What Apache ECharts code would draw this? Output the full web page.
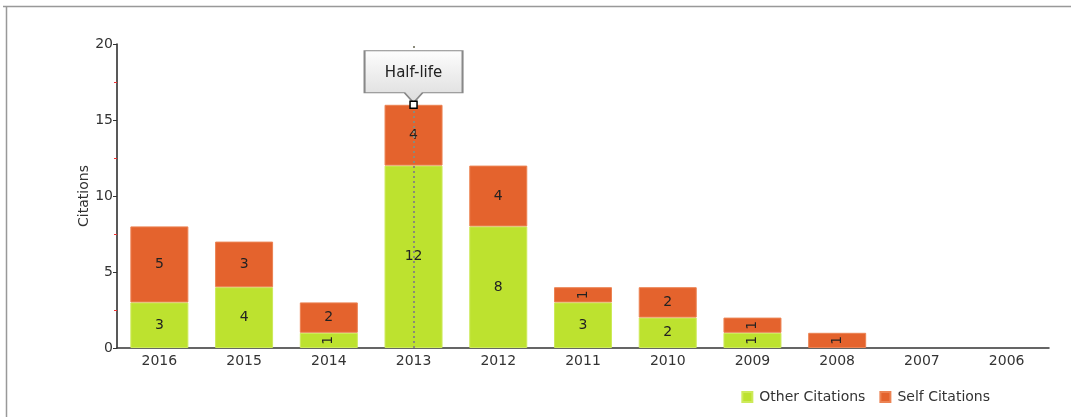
<!DOCTYPE html>
<html><head><meta charset="utf-8">
<script src="https://cdn.jsdelivr.net/npm/echarts@6/dist/echarts.min.js"></script>
<style>html,body{margin:0;padding:0;background:#fff}#c{width:1071px;height:417px}</style>
</head><body><div id="c"></div>
<script>
var years = ['2016','2015','2014','2013','2012','2011','2010','2009','2008','2007','2006'];
var otherCitations = [3, 4, 1, 12, 8, 3, 2, 1, 0, 0, 0];
var selfCitations  = [5, 3, 2, 4, 4, 1, 2, 1, 1, 0, 0];
var yTicks = [0, 5, 10, 15, 20];
var halfLifeYear = '2013';
var halfLifeValue = 16;

var green = '#bde22f', orange = '#e4632d';
function lbl(v){ return v === 1 ? {show:true, rotate:90, fontSize:14, color:'#222', fontFamily:'DejaVu Sans'} : {show:true, fontSize:14, color:'#222', fontFamily:'DejaVu Sans'}; }
function mk(arr){ return arr.map(function(v){ return v === 0 ? {value:'-'} : {value:v, label:lbl(v)}; }); }

var chart = echarts.init(document.getElementById('c'), null, {renderer:'canvas'});
chart.setOption({
  animation:false,
  textStyle:{fontFamily:'DejaVu Sans'},
  graphic:[
    {type:'line', shape:{x1:3,y1:6.5,x2:1071,y2:6.5}, style:{stroke:'#999',lineWidth:1.5}},
    {type:'line', shape:{x1:6.5,y1:6,x2:6.5,y2:417}, style:{stroke:'#999',lineWidth:1.5}}
  ],
  grid:{left:117, right:22, top:44, bottom:69},
  legend:{
    right:76, bottom:8, itemWidth:10, itemHeight:10, itemGap:14,
    icon:'rect', textStyle:{fontSize:14, color:'#333', fontFamily:'DejaVu Sans', padding:[0,0,0,2]},
    data:['Other Citations','Self Citations']
  },
  xAxis:{
    type:'category', data:years,
    axisLine:{lineStyle:{color:'#333', width:1.5}},
    axisTick:{alignWithLabel:true, length:4, lineStyle:{color:'#333'}},
    axisLabel:{fontSize:14, color:'#333', margin:6}
  },
  yAxis:{
    type:'value', min:0, max:20, interval:5,
    name:'Citations', nameLocation:'middle', nameGap:26, nameRotate:90, nameMoveOverlap:false,
    nameTextStyle:{fontSize:14, color:'#333'},
    axisLine:{show:true, lineStyle:{color:'#222', width:1.5}},
    axisTick:{show:true, length:4, lineStyle:{color:'#333'}},
    minorTick:{show:true, splitNumber:2, length:3, lineStyle:{color:'#e33'}},
    splitLine:{show:false},
    axisLabel:{fontSize:14, color:'#333', margin:4,
      formatter:function(v){ return yTicks.indexOf(v) >= 0 ? String(v) : ''; }}
  },
  series:[
    {name:'Other Citations', type:'bar', stack:'c', barWidth:58,
     itemStyle:{color:green, borderColor:'#cdea5a', borderWidth:1},
     label:{show:true, position:'inside'},
     data:mk(otherCitations),
     markLine:{silent:true, symbol:'none', label:{show:false},
       lineStyle:{color:'#8a8a7a', type:[2,3], width:2},
       data:[[{coord:[halfLifeYear,0]},{coord:[halfLifeYear,20]}]]}
    },
    {name:'Self Citations', type:'bar', stack:'c', barWidth:58,
     itemStyle:{color:orange, borderColor:'#ec8353', borderWidth:1},
     label:{show:true, position:'inside'},
     data:mk(selfCitations),
     markPoint:{silent:true, data:[
       {coord:[halfLifeYear, halfLifeValue],
        symbol:'path://M0,0 L98,0 L98,42 L58,42 L49,52 L40,42 L0,42 Z',
        symbolSize:[98,52], symbolOffset:[0,'-54%'], symbolKeepAspect:false,
        itemStyle:{color:new echarts.graphic.LinearGradient(0,0,0,1,[{offset:0,color:'#fdfdfd'},{offset:1,color:'#dcdcdc'}]), borderColor:'#888', borderWidth:1.5},
        label:{show:true, position:'inside', formatter:'Half-life', fontSize:15, color:'#222', offset:[0,-4]}},
       {coord:[halfLifeYear, halfLifeValue], symbol:'rect', symbolSize:7,
        itemStyle:{color:'#fff', borderColor:'#000', borderWidth:1.5}, label:{show:false}}
     ]}
    }
  ]
});
</script></body></html>
